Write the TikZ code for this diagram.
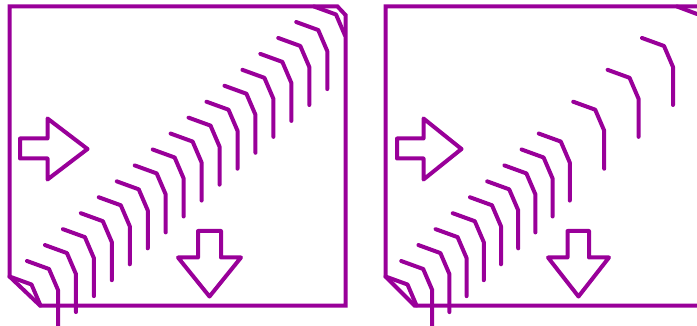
\documentclass[tikz,border=0pt]{standalone}
\usepackage{tikz}
\definecolor{foldpurple}{HTML}{990099}
\newcommand{\foldmark}[2]{(#1,#2) -- ++(22,8) -- ++(9,21)}
\newcommand{\foldline}[2]{(#1,#2) -- ++(22,8) -- ++(9,21) -- ++(0,38)}
\begin{document}
\begin{tikzpicture}[
  x=1pt,y=-1pt,
  %% Outline of a sheet
  sheetline/.style={draw=foldpurple,line width=4pt,line join=miter},
  %% Block arrows: blunt corners
  blockarrow/.style={draw=foldpurple,line width=4pt,line join=round},
  %% Fold lines: short bent strokes
  foldstroke/.style={draw=foldpurple,line width=4pt,line cap=round,line join=round}
]
\useasboundingbox (0,0) rectangle (697,326);

%% ---- LEFT SHEET ----
\draw[sheetline] (9.5,6.5) -- (337.5,6.5) -- (345.5,15) -- (345.5,305.5)
  -- (40,305.5) -- (9.5,276.5) -- cycle;
\draw[foldstroke] \foldmark{9.5}{276.5};
\draw[foldstroke] \foldmark{314}{6.5};
\foreach \i in {0,...,15}
  \draw[foldstroke] \foldline{27+17.95*\i}{261-15.93*\i};

%% ---- LEFT SHEET ARROWS ----
\draw[blockarrow] (20,138.5) -- (47.5,138.5) -- (47.5,118.5) -- (87.5,149) -- (47.5,179.5)
  -- (47.5,158.5) -- (20,158.5) -- cycle;
\draw[blockarrow] (198,231) -- (221,231) -- (221,257.5) -- (241,257.5) -- (209.5,296.5)
  -- (178,257.5) -- (198,257.5) -- cycle;

%% ---- RIGHT SHEET ----
\draw[sheetline] (697,6.5) -- (385.5,6.5) -- (385.5,276.5) -- (414.5,305.5) -- (697,305.5);
\draw[foldstroke] \foldmark{385.5}{276.5};
\draw[foldstroke] (677,6.5) -- (697,14);
\foreach \i in {0,...,8,10,12,14}
  \draw[foldstroke] \foldline{401.2+17.2*\i}{261-15.93*\i};

%% ---- RIGHT SHEET ARROWS ----
\draw[blockarrow] (397,138.5) -- (423.5,138.5) -- (423.5,118.5) -- (461.5,149) -- (423.5,179.5)
  -- (423.5,158.5) -- (397,158.5) -- cycle;
\draw[blockarrow] (567.5,231) -- (589,231) -- (589,257.5) -- (609,257.5) -- (578.5,296.5)
  -- (548,257.5) -- (567.5,257.5) -- cycle;

\end{tikzpicture}
\end{document}
